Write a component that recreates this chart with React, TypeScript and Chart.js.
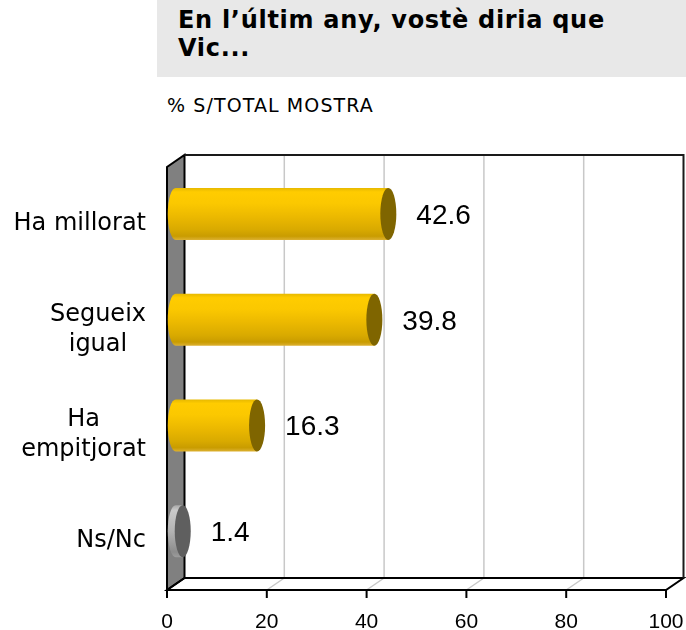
import React, { useEffect, useRef } from "react";
import { Chart, registerables } from "chart.js";

Chart.register(...registerables);

// ---- data ----
const categoryLines: string[][] = [["Ha millorat"], ["Segueix", "igual"], ["Ha", "empitjorat"], ["Ns/Nc"]];
const values: number[] = [42.6, 39.8, 16.3, 1.4];
const valueLabels: string[] = ["42.6", "39.8", "16.3", "1.4"];
const xTicks: number[] = [0, 20, 40, 60, 80, 100];
const titleLines: string[] = ["En l\u2019últim any, vostè diria que", "Vic..."];
const subtitle = "% S/TOTAL MOSTRA";

// ---- styles ----
const DX = 17.5;
const DY = 12;
const CAP_RX = 8;
const YELLOW_STOPS: [number, string][] = [
  [0, "#e6b800"], [0.08, "#ffcc00"], [0.3, "#fbc800"], [0.55, "#ecb900"],
  [0.8, "#d9aa00"], [0.93, "#c99c00"], [1, "#dcb030"],
];
const GRAY_STOPS: [number, string][] = [
  [0, "#a8a8a8"], [0.1, "#cacaca"], [0.5, "#b4b4b4"], [0.9, "#8c8c8c"], [1, "#9c9c9c"],
];
const BAR_STYLE = [
  { stops: YELLOW_STOPS, cap: "#7f6500" },
  { stops: YELLOW_STOPS, cap: "#7f6500" },
  { stops: YELLOW_STOPS, cap: "#7f6500" },
  { stops: GRAY_STOPS, cap: "#5f5f5f" },
];

function line(ctx: CanvasRenderingContext2D, x1: number, y1: number, x2: number, y2: number) {
  ctx.beginPath();
  ctx.moveTo(x1, y1);
  ctx.lineTo(x2, y2);
  ctx.stroke();
}

const frame3D = {
  id: "frame3D",
  beforeDatasetsDraw(chart: any) {
    const { ctx, chartArea: a, scales } = chart;
    const xs = scales.x;
    const L = a.left, R = a.right, T = a.top, B = a.bottom;
    ctx.save();
    // back wall & floor
    ctx.fillStyle = "#ffffff";
    ctx.fillRect(L + DX, T - DY, R - L, B - T);
    // gridlines (back wall + floor)
    ctx.strokeStyle = "#c8c8c8";
    ctx.lineWidth = 1.5;
    xTicks.slice(1, -1).forEach((v) => {
      const px = xs.getPixelForValue(v);
      line(ctx, px + DX, T - DY, px + DX, B - DY);
      line(ctx, px + DX, B - DY, px, B);
    });
    // left wall
    ctx.fillStyle = "#808080";
    ctx.strokeStyle = "#000000";
    ctx.lineWidth = 2;
    ctx.beginPath();
    ctx.moveTo(L, B);
    ctx.lineTo(L + DX, B - DY);
    ctx.lineTo(L + DX, T - DY);
    ctx.lineTo(L, T);
    ctx.closePath();
    ctx.fill();
    ctx.stroke();
    // floor outline
    ctx.beginPath();
    ctx.moveTo(L, B);
    ctx.lineTo(L + DX, B - DY);
    ctx.lineTo(R + DX, B - DY);
    ctx.lineTo(R, B);
    ctx.closePath();
    ctx.stroke();
    // back top & right
    ctx.strokeStyle = "#1a1a1a";
    ctx.beginPath();
    ctx.moveTo(L + DX, T - DY);
    ctx.lineTo(R + DX, T - DY);
    ctx.lineTo(R + DX, B - DY);
    ctx.stroke();
    ctx.strokeStyle = "#000000";
    // ticks and labels
    ctx.fillStyle = "#000000";
    ctx.font = "21px 'Liberation Sans'";
    ctx.textAlign = "center";
    ctx.textBaseline = "alphabetic";
    xTicks.forEach((v) => {
      const px = xs.getPixelForValue(v);
      line(ctx, px, B, px, B + 8);
      ctx.fillText(String(v), px, B + 38);
    });
    // category labels
    const ys = scales.y;
    ctx.font = "24px 'DejaVu Sans'";
    categoryLines.forEach((lines, i) => {
      const cy = ys.getPixelForValue(i);
      const widest = Math.max(...lines.map((s) => ctx.measureText(s).width));
      const cx = L - 21 - widest / 2;
      lines.forEach((s, k) => {
        const by = cy + 10 + (k - (lines.length - 1) / 2) * 30;
        ctx.fillText(s, cx, by);
      });
    });
    ctx.restore();
  },
  afterDatasetsDraw(chart: any) {
    const { ctx } = chart;
    const meta = chart.getDatasetMeta(0);
    ctx.save();
    meta.data.forEach((el: any, i: number) => {
      const p = el.getProps(["x", "y", "base", "height"], true);
      const yc = p.y - DY / 2;
      const x0 = p.base + DX / 2;
      const x1 = p.x + DX / 2;
      const ry = p.height / 2;
      const st = BAR_STYLE[i];
      const g = ctx.createLinearGradient(0, yc - ry, 0, yc + ry);
      st.stops.forEach(([o, c]) => g.addColorStop(o, c));
      ctx.fillStyle = g;
      ctx.beginPath();
      ctx.moveTo(x1, yc - ry);
      ctx.lineTo(x0, yc - ry);
      ctx.ellipse(x0, yc, CAP_RX, ry, 0, -Math.PI / 2, Math.PI / 2, true);
      ctx.lineTo(x1, yc + ry);
      ctx.closePath();
      ctx.fill();
      ctx.fillStyle = st.cap;
      ctx.beginPath();
      ctx.ellipse(x1, yc, CAP_RX, ry, 0, 0, Math.PI * 2);
      ctx.fill();
      // value label
      ctx.fillStyle = "#000000";
      ctx.font = "28px 'Liberation Sans'";
      ctx.textAlign = "left";
      ctx.textBaseline = "alphabetic";
      ctx.fillText(valueLabels[i], x1 + CAP_RX + 20, yc + 10);
    });
    ctx.restore();
  },
};

export default function App() {
  const ref = useRef<HTMLCanvasElement | null>(null);
  useEffect(() => {
    if (!ref.current) return;
    const chart = new Chart(ref.current, {
      type: "bar",
      data: {
        labels: categoryLines.map((l) => l.join(" ")),
        datasets: [
          {
            data: values,
            backgroundColor: "rgba(0,0,0,0)",
            borderWidth: 0,
            barThickness: 52,
          },
        ],
      },
      options: {
        indexAxis: "y",
        responsive: false,
        animation: false,
        events: [],
        layout: { padding: { left: 167, right: 20, top: 167, bottom: 40 } },
        scales: {
          x: { min: 0, max: 100, display: false, ticks: { stepSize: 20 } },
          y: { display: false },
        },
        plugins: { legend: { display: false }, tooltip: { enabled: false } },
      },
      plugins: [frame3D],
    } as any);
    return () => chart.destroy();
  }, []);

  return (
    <div style={{ position: "absolute", left: 0, top: 0, width: 686, height: 630, background: "#fff", overflow: "hidden" }}>
      <div
        style={{
          position: "absolute",
          left: 157,
          top: 0,
          width: 529,
          height: 77,
          background: "#e8e8e8",
        }}
      />
      <div
        style={{
          position: "absolute",
          left: 178,
          top: 6,
          fontFamily: "'DejaVu Sans'",
          fontWeight: "bold",
          fontSize: 24,
          lineHeight: "28px",
          letterSpacing: "0.7px",
          color: "#000",
          whiteSpace: "nowrap",
        }}
      >
        {titleLines[0]}
        <br />
        {titleLines[1]}
      </div>
      <div
        style={{
          position: "absolute",
          left: 167,
          top: 96,
          fontFamily: "'DejaVu Sans'",
          fontSize: 19,
          lineHeight: "19px",
          letterSpacing: "1.1px",
          color: "#000",
          whiteSpace: "nowrap",
        }}
      >
        {subtitle}
      </div>
      <canvas ref={ref} width={686} height={630} style={{ position: "absolute", left: 0, top: 0, width: 686, height: 630 }} />
    </div>
  );
}
